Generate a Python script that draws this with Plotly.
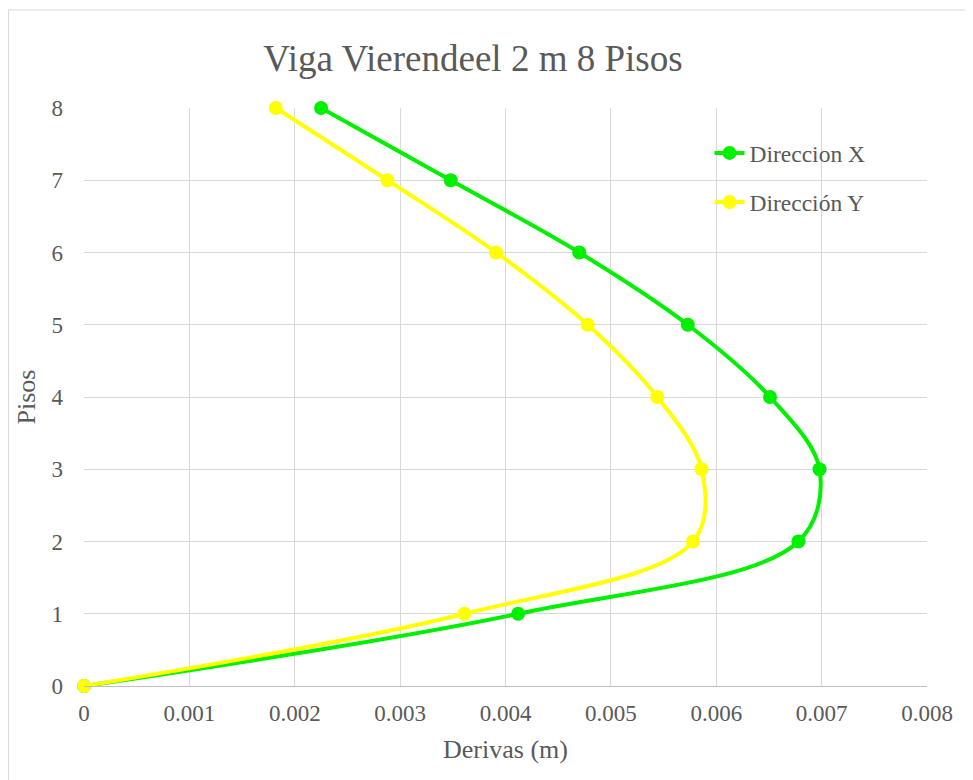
import plotly.graph_objects as go

# Datos
pisos = [0, 1, 2, 3, 4, 5, 6, 7, 8]
deriva_x = [0, 0.00412, 0.00678, 0.00698, 0.00651, 0.00573, 0.00470, 0.00348, 0.00225]
deriva_y = [0, 0.00361, 0.00578, 0.00586, 0.00544, 0.00478, 0.00391, 0.00288, 0.00182]
nombres = ["Direccion X", "Dirección Y"]
colores = ["#00F000", "#FFFF00"]
ticks_x = [0, 0.001, 0.002, 0.003, 0.004, 0.005, 0.006, 0.007, 0.008]
etiquetas_x = ["0", "0.001", "0.002", "0.003", "0.004", "0.005", "0.006", "0.007", "0.008"]

texto = "#595959"
fuente = "Liberation Serif, DejaVu Serif, serif"

fig = go.Figure()
for i, (xs, nombre, color) in enumerate(zip([deriva_x, deriva_y], nombres, colores)):
    fig.add_trace(go.Scatter(
        x=xs, y=pisos, name=nombre,
        mode="lines+markers",
        line=dict(color=color, width=4, shape="spline", smoothing=1),
        marker=dict(color=color, size=14),
        cliponaxis=False, showlegend=True,
        legend="legend" if i == 0 else "legend2",
    ))

# la pagina tiene 8 px de margen en el body, se compensa aqui
fig.update_layout(
    width=965, height=772,
    margin=dict(l=76, r=46, t=100, b=94, autoexpand=False),
    showlegend=True,
    paper_bgcolor="white", plot_bgcolor="white",
    font=dict(family=fuente, color=texto, size=23),
    title=dict(text="Viga Vierendeel 2 m 8 Pisos", x=0.4614, xref="paper",
               xanchor="center", y=1 - 50 / 772, yref="container", yanchor="middle",
               font=dict(size=37, color=texto, family=fuente)),
    xaxis=dict(range=[0, 0.008], tickvals=ticks_x, ticktext=etiquetas_x,
               tickangle=0, showgrid=True, gridcolor="#d9d9d9",
               gridwidth=1.3, zeroline=False, showline=True, linecolor="#bfbfbf",
               linewidth=1.3, ticks="", ticklabelstandoff=6,
               title=dict(text="Derivas (m)", font=dict(size=26), standoff=15)),
    yaxis=dict(range=[0, 8], dtick=1, showgrid=True, gridcolor="#d9d9d9",
               gridwidth=1.3, zeroline=False, showline=False, ticks="",
               ticklabelstandoff=20,
               title=dict(text="Pisos", font=dict(size=26), standoff=8)),
    legend=dict(x=0.742, y=0.960, xanchor="left", yanchor="top",
                bgcolor="rgba(0,0,0,0)", font=dict(size=23.5)),
    legend2=dict(x=0.742, y=0.875, xanchor="left", yanchor="top",
                 bgcolor="rgba(0,0,0,0)", font=dict(size=23.5)),
    shapes=[dict(type="rect", xref="paper", yref="paper",
                 x0=-0.0896, x1=1.2, y0=-0.3, y1=1.1696,
                 line=dict(color="#d9d9d9", width=1), layer="below")],
)

fig.write_html("out.html")
